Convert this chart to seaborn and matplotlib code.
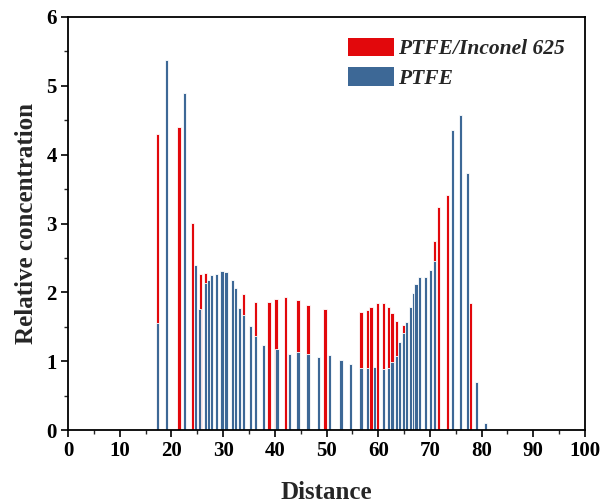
import numpy as np
import matplotlib
matplotlib.use("Agg")
import matplotlib.pyplot as plt
import seaborn as sns
from matplotlib.patches import Patch
from matplotlib.ticker import MultipleLocator

# ---- data ----
ptfe_x = [17.3, 19.0, 22.5, 24.7, 25.4, 26.6, 27.2, 27.8, 28.7, 29.8, 30.6,
          31.8, 32.4, 33.2, 34.0, 35.3, 36.3, 37.8, 40.4, 42.9, 44.5, 46.4,
          48.5, 50.6, 52.8, 54.6, 56.7, 57.9, 59.3, 61.0, 62.0, 62.7, 63.5,
          64.1, 64.9, 65.5, 66.2, 66.8, 67.3, 68.0, 69.1, 70.1, 70.9, 74.4,
          75.9, 77.3, 79.0, 80.8]
ptfe_y = [1.55, 5.37, 4.89, 2.40, 1.76, 2.13, 2.18, 2.25, 2.27, 2.31, 2.29,
          2.18, 2.06, 1.77, 1.67, 1.51, 1.36, 1.23, 1.18, 1.10, 1.14, 1.10,
          1.06, 1.09, 1.02, 0.96, 0.90, 0.90, 0.92, 0.88, 0.90, 0.99, 1.07,
          1.28, 1.41, 1.57, 1.79, 1.99, 2.12, 2.22, 2.23, 2.32, 2.46, 4.36,
          4.58, 3.74, 0.70, 0.10]

inconel_x = [17.3, 21.5, 24.1, 25.6, 26.6, 34.0, 36.3, 38.9, 40.2, 42.1,
             44.5, 46.4, 49.7, 56.7, 57.9, 58.6, 59.9, 61.0, 62.0, 62.7,
             63.5, 64.9, 70.9, 71.7, 73.4, 77.9]
inconel_y = [4.30, 4.40, 3.01, 2.27, 2.28, 1.97, 1.86, 1.86, 1.90, 1.93,
             1.89, 1.82, 1.76, 1.71, 1.74, 1.79, 1.85, 1.84, 1.79, 1.70,
             1.58, 1.53, 2.74, 3.24, 3.41, 1.84]

series_labels = ["PTFE/Inconel 625", "PTFE"]
x_ticks = list(range(0, 101, 10))
y_ticks = list(range(0, 7))
x_label = "Distance"
y_label = "Relative concentration"

# ---- style ----
sns.set_style("ticks")
plt.rcParams['font.family'] = ['Liberation Serif', 'DejaVu Serif']
plt.rcParams['font.weight'] = 'bold'
plt.rcParams['axes.labelweight'] = 'bold'

RED = '#E2080C'
BLUE = '#3D6896'
BW = 0.66

fig = plt.figure(figsize=(6.1, 5.04), dpi=100)
ax = fig.add_axes([68/610, 1-430/504, (585-68)/610, (430-17)/504])


def draw(xs, ys, color):
    xs = np.asarray(xs, float)
    step = np.min(np.diff(np.sort(xs)))
    sns.barplot(x=xs, y=np.asarray(ys, float), native_scale=True, orient='x',
                width=BW / step, color=color, saturation=1,
                edgecolor='white', linewidth=0.6, errorbar=None, ax=ax)


draw(inconel_x, inconel_y, RED)
draw(ptfe_x, ptfe_y, BLUE)

ax.set_xlim(0, 100)
ax.set_ylim(0, 6)
ax.set_xticks(x_ticks)
ax.set_yticks(y_ticks)
ax.set_xticklabels([str(t) for t in x_ticks])
ax.set_yticklabels([str(t) for t in y_ticks])
ax.xaxis.set_minor_locator(MultipleLocator(5))
ax.yaxis.set_minor_locator(MultipleLocator(0.5))
ax.tick_params(which='major', direction='out', length=5, width=1.2,
               labelsize=15, colors='black', pad=3)
ax.tick_params(which='minor', direction='out', length=3, width=1.0)
for s in ax.spines.values():
    s.set_visible(True)
    s.set_linewidth(1.3)
    s.set_color('black')

ax.set_xlabel(x_label, fontsize=18, labelpad=14)
ax.set_ylabel(y_label, fontsize=18, labelpad=6)

handles = [Patch(facecolor=RED, edgecolor='none'),
           Patch(facecolor=BLUE, edgecolor='none')]
ax.legend(handles, series_labels, loc='upper left',
          bbox_to_anchor=(337/610, 1-27/504), bbox_transform=fig.transFigure,
          frameon=False, borderpad=0, handlelength=2.15, handleheight=0.95,
          handletextpad=0.18, labelspacing=0.35,
          prop={'family': ['Liberation Serif'], 'weight': 'bold',
                'style': 'italic', 'size': 15.5})

fig.savefig("out.png", dpi=100)
